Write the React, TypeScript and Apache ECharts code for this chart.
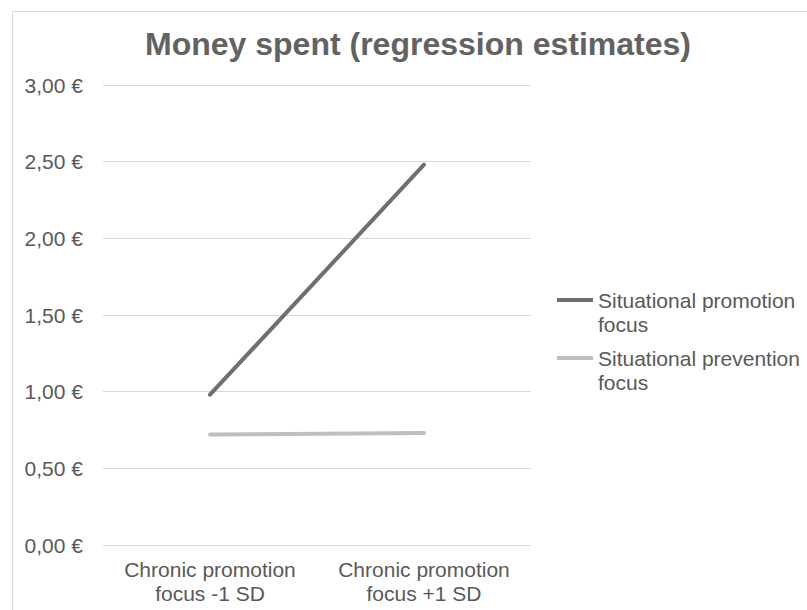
import React, { useEffect, useRef } from "react";
import * as echarts from "echarts";

// Chart data
const categories = ["Chronic promotion\nfocus -1 SD", "Chronic promotion\nfocus +1 SD"];
const seriesNames = ["Situational promotion focus", "Situational prevention focus"];
const promotionValues = [0.98, 2.48];
const preventionValues = [0.72, 0.73];
const yTicks = { min: 0, max: 3, interval: 0.5 };
const titleText = "Money spent (regression estimates)";

const TEXT_COLOR = "#595959";
const GRID_COLOR = "#d9d9d9";
const FONT = "Liberation Sans, Arial, sans-serif";
const LABEL_SIZE = 21;

export default function App() {
  const ref = useRef<HTMLDivElement>(null);

  useEffect(() => {
    if (!ref.current) return;
    const chart = echarts.init(ref.current, undefined, { renderer: "svg" });

    const formatEuro = (v: number) => v.toFixed(2).replace(".", ",") + " €";
    // Wrap the legend label after the second word; a leading blank line keeps
    // the swatch aligned with the first text line.
    const wrapLegend = (name: string) => {
      const parts = name.split(" ");
      return "\n" + parts.slice(0, 2).join(" ") + "\n" + parts.slice(2).join(" ");
    };

    chart.setOption({
      animation: false,
      backgroundColor: "#ffffff",
      textStyle: { fontFamily: FONT },
      graphic: [
        {
          type: "rect",
          shape: { x: 12.5, y: 11.5, width: 900, height: 700 },
          style: { fill: "none", stroke: GRID_COLOR, lineWidth: 1 },
          silent: true,
        },
        {
          type: "text",
          x: 418,
          y: 44,
          style: {
            text: titleText,
            align: "center",
            verticalAlign: "middle",
            fill: "#626262",
            font: `bold 32px ${FONT}`,
          },
        },
      ],
      legend: {
        orient: "vertical",
        left: 557,
        top: 264,
        padding: 0,
        itemWidth: 36,
        itemHeight: 4,
        itemGap: -14,
        icon: "rect",
        formatter: wrapLegend,
        textStyle: {
          color: TEXT_COLOR,
          fontSize: LABEL_SIZE,
          lineHeight: 24,
          fontFamily: FONT,
        },
        data: seriesNames,
      },
      grid: { left: 103, right: 276, top: 85, bottom: 65, containLabel: false },
      xAxis: {
        type: "category",
        data: categories,
        boundaryGap: true,
        axisLine: { show: false },
        axisTick: { show: false },
        axisLabel: {
          interval: 0,
          hideOverlap: false,
          color: TEXT_COLOR,
          fontSize: LABEL_SIZE,
          lineHeight: 24,
          margin: 12,
          fontFamily: FONT,
        },
      },
      yAxis: {
        type: "value",
        min: yTicks.min,
        max: yTicks.max,
        interval: yTicks.interval,
        axisLine: { show: false },
        axisTick: { show: false },
        splitLine: { lineStyle: { color: GRID_COLOR, width: 1 } },
        axisLabel: {
          color: TEXT_COLOR,
          fontSize: LABEL_SIZE,
          margin: 20,
          fontFamily: FONT,
          formatter: formatEuro,
        },
      },
      series: [
        {
          name: seriesNames[0],
          type: "line",
          data: promotionValues,
          symbol: "none",
          color: "#6f6f6f",
          lineStyle: { color: "#6f6f6f", width: 4, cap: "round" },
        },
        {
          name: seriesNames[1],
          type: "line",
          data: preventionValues,
          symbol: "none",
          color: "#bfbfbf",
          lineStyle: { color: "#bfbfbf", width: 4, cap: "round" },
        },
      ],
    });

    return () => chart.dispose();
  }, []);

  return (
    <div
      ref={ref}
      style={{ position: "absolute", left: 0, top: 0, width: 807, height: 610 }}
    />
  );
}
